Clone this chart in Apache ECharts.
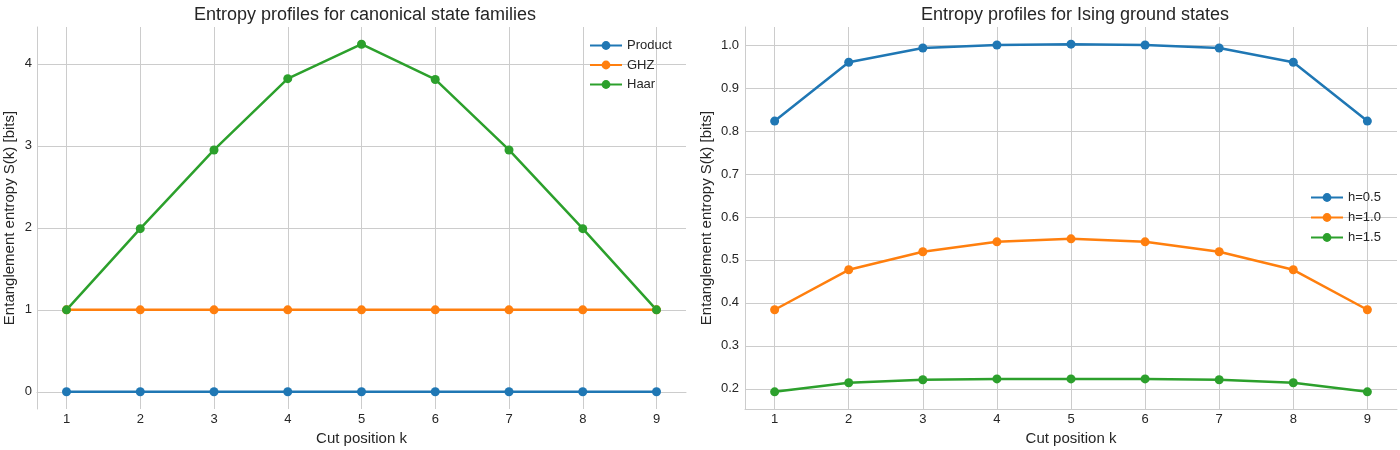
<!DOCTYPE html>
<html>
<head>
<meta charset="utf-8">
<script src="https://cdn.jsdelivr.net/npm/echarts@6/dist/echarts.min.js"></script>
<style>
  html, body { margin: 0; padding: 0; background: #fff; }
</style>
</head>
<body>
<div id="main" style="width:1400px;height:450px;"></div>
<script type="text/javascript">
    // data
    var cuts = [1, 2, 3, 4, 5, 6, 7, 8, 9];
    var productS = [0, 0, 0, 0, 0, 0, 0, 0, 0];
    var ghzS = [1, 1, 1, 1, 1, 1, 1, 1, 1];
    var haarS = [1.0, 1.99, 2.95, 3.82, 4.24, 3.81, 2.95, 1.99, 1.0];
    var isingH05 = [0.823, 0.960, 0.993, 1.000, 1.002, 1.000, 0.993, 0.960, 0.823];
    var isingH10 = [0.384, 0.477, 0.519, 0.542, 0.549, 0.542, 0.519, 0.477, 0.384];
    var isingH15 = [0.193, 0.214, 0.221, 0.223, 0.223, 0.223, 0.221, 0.214, 0.193];
    var leftTicks = [0, 1, 2, 3, 4];
    var rightTicks = [0.2, 0.3, 0.4, 0.5, 0.6, 0.7, 0.8, 0.9, 1.0];

    var blue = '#1f77b4', orange = '#ff7f0e', green = '#2ca02c';
    var font = 'Liberation Sans, Arial, sans-serif';

    function pairs(ys) {
        return cuts.map(function (k, i) { return [k, ys[i]]; });
    }
    function lineSeries(name, color, ys, idx) {
        return {
            name: name,
            type: 'line',
            xAxisIndex: idx,
            yAxisIndex: idx,
            data: pairs(ys),
            symbol: 'circle',
            symbolSize: 9,
            color: color,
            lineStyle: { width: 2.5, color: color },
            itemStyle: { color: color },
            emphasis: { disabled: true },
            animation: false
        };
    }
    function xAx(idx) {
        return {
            type: 'value', gridIndex: idx,
            min: 0.6, max: 9.4,
            name: 'Cut position k', nameLocation: 'middle', nameGap: 22,
            nameTextStyle: { fontSize: 15, color: '#262626', fontFamily: font },
            axisLine: { show: true, lineStyle: { color: '#cccccc', width: 1 } },
            axisTick: { show: false, customValues: cuts },
            axisLabel: { customValues: cuts, fontSize: 13, color: '#262626', fontFamily: font, margin: 4 },
            splitLine: { show: true, lineStyle: { color: '#cccccc', width: 1 } }
        };
    }
    function yAx(idx, min, max, ticks, gap, margin, fmt) {
        return {
            type: 'value', gridIndex: idx,
            min: min, max: max,
            name: 'Entanglement entropy S(k) [bits]', nameLocation: 'middle', nameGap: gap,
            nameTextStyle: { fontSize: 15, color: '#262626', fontFamily: font },
            axisLine: { show: true, lineStyle: { color: '#cccccc', width: 1 } },
            axisTick: { show: false, customValues: ticks },
            axisLabel: { customValues: ticks, fontSize: 13, color: '#262626', fontFamily: font, margin: margin, formatter: fmt },
            splitLine: { show: true, lineStyle: { color: '#cccccc', width: 1 } }
        };
    }

    var myChart = echarts.init(document.getElementById('main'));
    var option = {
        backgroundColor: '#ffffff',
        animation: false,
        title: [
            { text: 'Entropy profiles for canonical state families', left: 360, top: 1, textAlign: 'center',
              textStyle: { fontSize: 18, fontWeight: 'normal', color: '#262626', fontFamily: font } },
            { text: 'Entropy profiles for Ising ground states', left: 1070, top: 1, textAlign: 'center',
              textStyle: { fontSize: 18, fontWeight: 'normal', color: '#262626', fontFamily: font } }
        ],
        legend: [
            { data: ['Product', 'GHZ', 'Haar'], orient: 'vertical', left: 584, top: 34,
              itemWidth: 32, itemHeight: 11, itemGap: 6.5,
              textStyle: { fontSize: 13, color: '#262626', fontFamily: font } },
            { data: ['h=0.5', 'h=1.0', 'h=1.5'], orient: 'vertical', left: 1305, top: 186,
              itemWidth: 32, itemHeight: 11, itemGap: 7,
              textStyle: { fontSize: 13, color: '#262626', fontFamily: font } }
        ],
        grid: [
            { left: 37, right: 714, top: 27, bottom: 41, outerBoundsMode: 'none', containLabel: false },
            { left: 745, right: 3, top: 27, bottom: 41, outerBoundsMode: 'none', containLabel: false }
        ],
        xAxis: [xAx(0), xAx(1)],
        yAxis: [
            yAx(0, -0.21, 4.45, leftTicks, 20, 5, function (v) { return String(Math.round(v)); }),
            yAx(1, 0.153, 1.042, rightTicks, 31, 6, function (v) { return v.toFixed(1); })
        ],
        series: [
            lineSeries('Product', blue, productS, 0),
            lineSeries('GHZ', orange, ghzS, 0),
            lineSeries('Haar', green, haarS, 0),
            lineSeries('h=0.5', blue, isingH05, 1),
            lineSeries('h=1.0', orange, isingH10, 1),
            lineSeries('h=1.5', green, isingH15, 1)
        ]
    };
    myChart.setOption(option);
</script>
</body>
</html>
